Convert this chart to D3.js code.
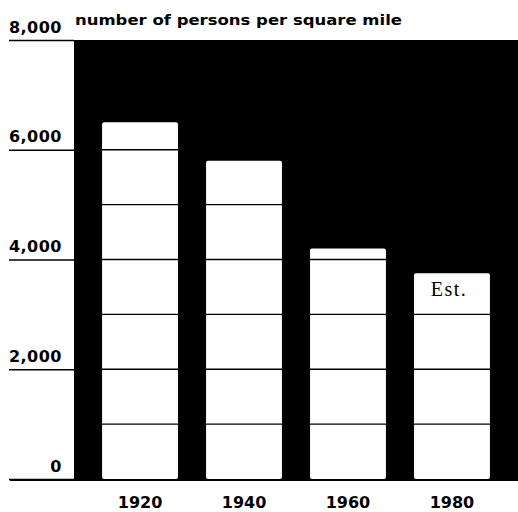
<!DOCTYPE html>
<html>
<head>
<meta charset="utf-8">
<script src="https://cdn.jsdelivr.net/npm/d3@7"></script>
<style>
  html, body { margin: 0; padding: 0; background: #fff; }
  svg { display: block; }
</style>
</head>
<body>
<svg id="chart" width="518" height="512"></svg>
<script>
// Population density, persons per square mile
const years = ["1920", "1940", "1960", "1980"];
const density = [6500, 5800, 4200, 3750];
const estimated = [false, false, false, true];
const tickValues = [0, 2000, 4000, 6000, 8000];
const gridValues = [1000, 2000, 3000, 4000, 5000, 6000, 7000];
const titleText = "number of persons per square mile";
const estimateText = "Est.";

const svg = d3.select("#chart");
const plot = { left: 74, right: 518, top: 40, bottom: 479 };

const x = d3.scaleBand()
  .domain(years)
  .range([plot.left, plot.right])
  .paddingInner(0.27)
  .paddingOuter(0.27);

const y = d3.scaleLinear()
  .domain([0, 8000])
  .range([plot.bottom, plot.top]);

const data = years.map((yr, i) => ({ year: yr, value: density[i], est: estimated[i] }));

// black field behind the columns
svg.append("rect")
  .attr("x", plot.left)
  .attr("y", y(8000))
  .attr("width", plot.right - plot.left)
  .attr("height", y(0) - y(8000))
  .attr("fill", "#000");

// columns
svg.append("g")
  .selectAll("rect")
  .data(data)
  .join("rect")
  .attr("x", d => x(d.year))
  .attr("y", d => y(d.value))
  .attr("width", x.bandwidth())
  .attr("height", d => y(0) - y(d.value))
  .attr("rx", 2)
  .attr("fill", "#fff");

// horizontal rules every 1,000 (only visible across the white columns)
svg.append("g")
  .selectAll("line")
  .data(gridValues)
  .join("line")
  .attr("x1", plot.left)
  .attr("x2", plot.right)
  .attr("y1", d => y(d))
  .attr("y2", d => y(d))
  .attr("stroke", "#000")
  .attr("stroke-width", 1.3);

// value axis: long rules with labels sitting above them
const yAxis = d3.axisLeft(y)
  .tickValues(tickValues)
  .tickFormat(d3.format(","))
  .tickSize(plot.left - 9)
  .tickPadding(0);

const gy = svg.append("g")
  .attr("transform", `translate(${plot.left},0)`)
  .call(yAxis);
gy.select(".domain").remove();
gy.selectAll(".tick line").attr("stroke", "#000").attr("stroke-width", 1.6);
gy.selectAll(".tick text")
  .attr("x", -12)
  .attr("dy", -8)
  .attr("text-anchor", "end")
  .attr("fill", "#000")
  .style("font-family", "'DejaVu Sans', sans-serif")
  .style("font-weight", "bold")
  .style("font-size", "16px")
  .style("letter-spacing", "0.5px");

// baseline
svg.append("line")
  .attr("x1", 10)
  .attr("x2", plot.right)
  .attr("y1", y(0) + 1)
  .attr("y2", y(0) + 1)
  .attr("stroke", "#000")
  .attr("stroke-width", 2);

// category axis labels
const xAxis = d3.axisBottom(x).tickSize(0).tickPadding(0);
const gx = svg.append("g")
  .attr("transform", `translate(0,${y(0)})`)
  .call(xAxis);
gx.select(".domain").remove();
gx.selectAll(".tick text")
  .attr("y", 29)
  .attr("dy", 0)
  .attr("fill", "#000")
  .style("font-family", "'DejaVu Sans', sans-serif")
  .style("font-weight", "bold")
  .style("font-size", "16px");

// estimate note inside the last column
svg.append("g")
  .selectAll("text")
  .data(data.filter(d => d.est))
  .join("text")
  .attr("x", d => x(d.year) + x.bandwidth() / 2 - 3)
  .attr("y", d => y(d.value) + 23)
  .attr("text-anchor", "middle")
  .attr("fill", "#000")
  .style("font-family", "'Liberation Serif', 'Times New Roman', serif")
  .style("font-size", "20px")
  .style("letter-spacing", "1.5px")
  .text(estimateText);

// title
svg.append("text")
  .attr("x", 75)
  .attr("y", 25)
  .attr("textLength", 327)
  .attr("lengthAdjust", "spacingAndGlyphs")
  .attr("fill", "#000")
  .style("font-family", "'DejaVu Sans', sans-serif")
  .style("font-weight", "bold")
  .style("font-size", "14px")
  .text(titleText);
</script>
</body>
</html>
